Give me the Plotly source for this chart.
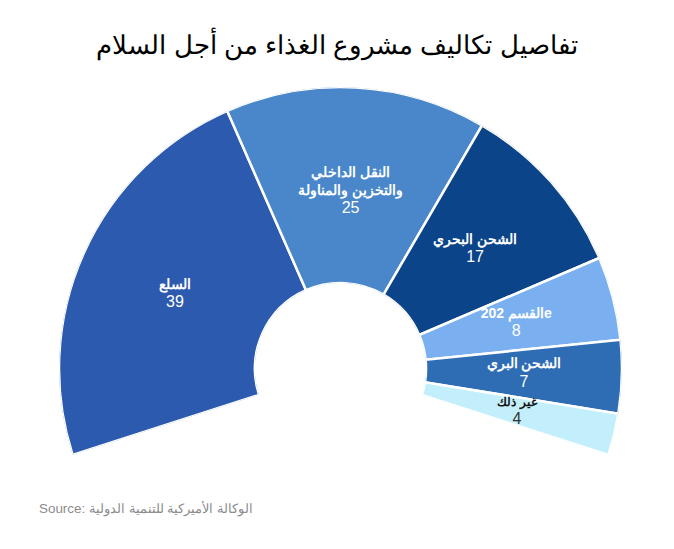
import plotly.graph_objects as go

# Cost breakdown, Food for Peace (percent)
labels = ["السلع", "النقل الداخلي<br>والتخزين والمناولة", "الشحن البحري",
          "202 القسمe", "الشحن البري", "غير ذلك"]
values = [39, 25, 17, 8, 7, 4]
colors = ["#2C5AAE", "#4A87CA", "#0B4489", "#7BB0F0", "#2E6CB3", "#C3EEFB"]

# Semi-donut opens a bit below the horizontal on both sides
span = 215.7
start = 197.85
scale = span / sum(values)

thetas = []
widths = []
acc = 0
for v in values:
    thetas.append((acc + v / 2) * scale)
    widths.append(v * scale)
    acc += v

fig = go.Figure()

fig.add_trace(go.Barpolar(
    r=[100] * len(values),
    theta=thetas,
    width=widths,
    marker=dict(color=colors, line=dict(color="white", width=2.5)),
    hoverinfo="skip",
    showlegend=False,
))

# Slice labels
texts = []
for lab, v in zip(labels, values):
    if v == 4:
        texts.append("<span style='color:#111111;font-size:12px'><b>" + lab + "</b></span><br>"
                     "<span style='color:#333333;font-size:16px'>" + str(v) + "</span>")
    else:
        texts.append("<b>" + lab + "</b><br><span style='font-size:16px'>" + str(v) + "</span>")

fig.add_trace(go.Scatterpolar(
    r=[49, 47, 48, 49, 50, 49],
    theta=thetas,
    mode="text",
    text=texts,
    textposition="middle center",
    textfont=dict(family="Liberation Sans, Arial, sans-serif", size=14, color="white"),
    hoverinfo="skip",
    showlegend=False,
))

fig.update_layout(
    width=674,
    height=549,
    paper_bgcolor="white",
    margin=dict(l=51, r=60, t=79, b=102),
    title=dict(
        text="تفاصيل تكاليف مشروع الغذاء من أجل السلام",
        x=(337 - 8) / 674, xanchor="center",
        y=1 - 37 / 549, yanchor="middle", yref="container",
        font=dict(family="Liberation Sans, Arial, sans-serif", size=26, color="black"),
    ),
    polar=dict(
        domain=dict(x=[0, 1], y=[0, 1]),
        sector=[start - span, start],
        hole=0.304,
        bgcolor="white",
        angularaxis=dict(visible=False, direction="clockwise", rotation=start),
        radialaxis=dict(visible=False, range=[0, 100]),
    ),
    annotations=[dict(
        text="Source: الوكالة الأميركية للتنمية الدولية",
        xref="paper", yref="paper",
        x=-22 / 563, y=-53 / 368,
        xanchor="left", yanchor="middle", showarrow=False,
        font=dict(family="Liberation Sans, Arial, sans-serif", size=13.4, color="#8C8C8C"),
    )],
)

fig.write_html("out.html")
